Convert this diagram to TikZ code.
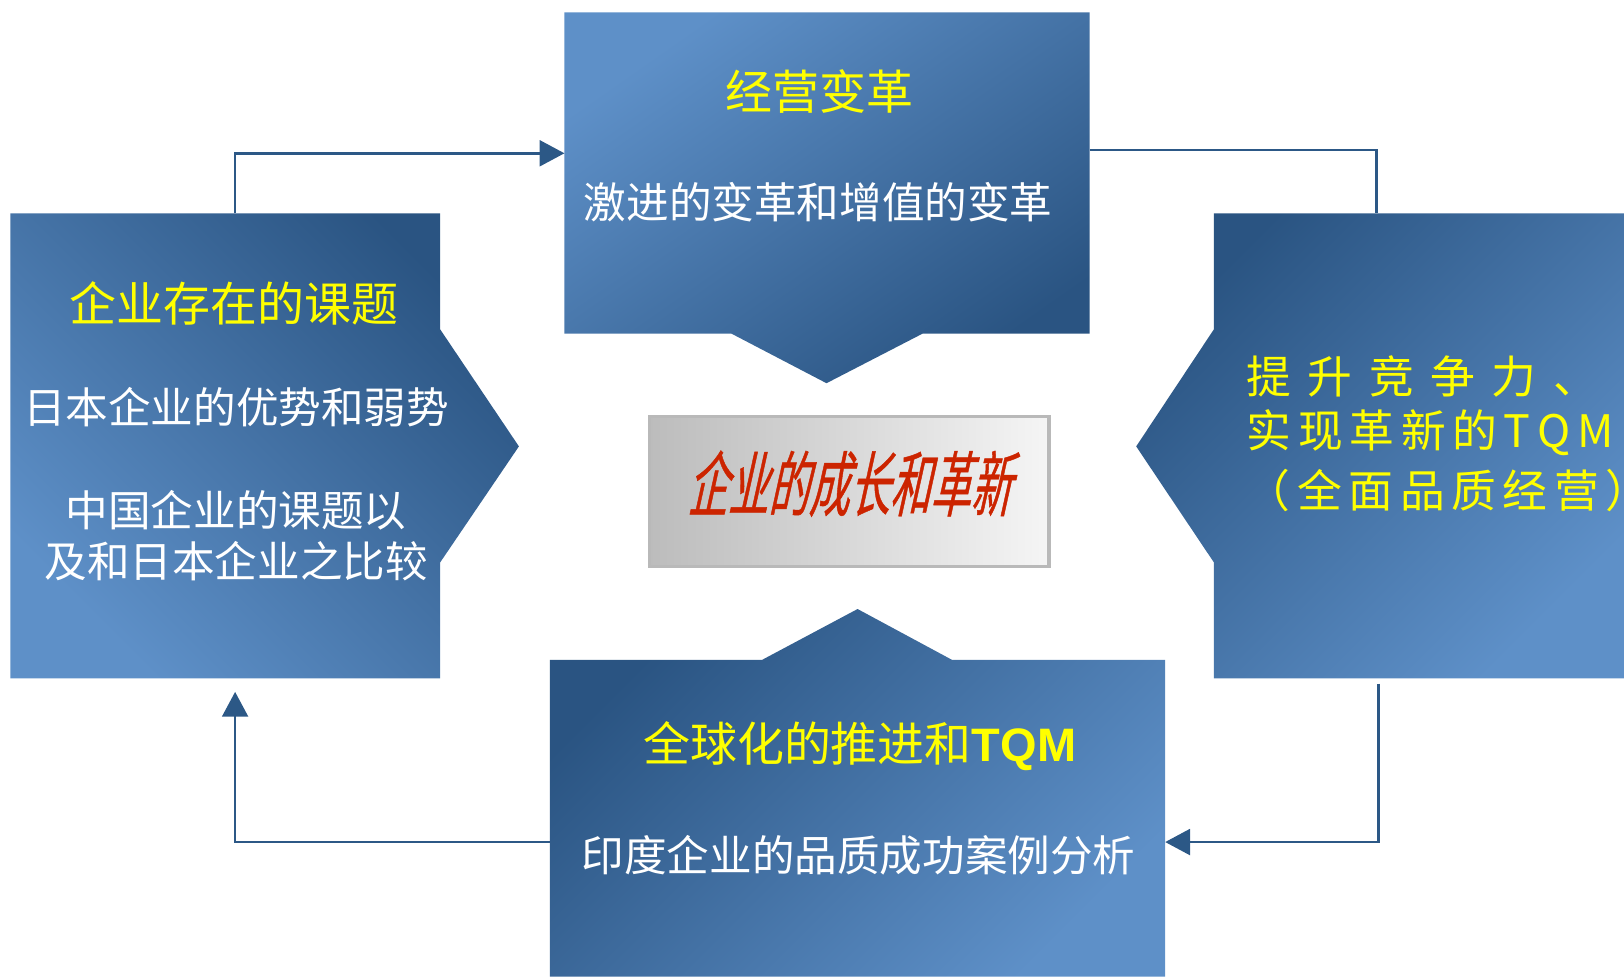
\documentclass[tikz,border=0pt]{standalone}
\usepackage{fontspec}
\setmainfont{Noto Sans CJK SC}
\newfontfamily\redfont[FakeSlant=0.22,FakeStretch=0.57,FakeBold=0.6]{Noto Sans CJK SC}
\newfontfamily\tqmfont{Liberation Sans}
\usetikzlibrary{arrows.meta}

\definecolor{boxlight}{RGB}{94,144,200}
\definecolor{boxdark}{RGB}{42,84,130}
\definecolor{linkblue}{RGB}{44,88,134}
\definecolor{titleyellow}{RGB}{255,255,0}
\definecolor{centrered}{RGB}{204,36,0}
\definecolor{centreleft}{RGB}{188,188,188}
\definecolor{centreright}{RGB}{245,245,245}
\definecolor{centreline}{RGB}{185,185,185}

\tikzset{
  area/.style={inner sep=0pt, outer sep=0pt},
  link/.style={draw=linkblue, line width=0.7pt},
  linkarrow/.style={link, -{Triangle[length=0.24cm,width=0.25cm]}},
  whitetxt/.style={text=white, font=\fontsize{11.7}{14}\selectfont},
  titletxt/.style={text=titleyellow, font=\fontsize{12.9}{15}\selectfont},
  sidetxt/.style={text=titleyellow, anchor=west, inner sep=0pt, font=\fontsize{12.3}{14}\selectfont}
}

\begin{document}
\begin{tikzpicture}
    \useasboundingbox (0,0) rectangle (15.68,9.43);

    % boxes (areas)
    \node[area, minimum width=5.07cm, minimum height=3.10cm] (jy) at (7.985,7.76) {};
    \node[area, minimum width=4.15cm, minimum height=4.49cm] (qy) at (2.175,5.125) {};
    \node[area, minimum width=3.96cm, minimum height=4.49cm] (ts) at (13.70,5.125) {};
    \node[area, minimum width=5.94cm, minimum height=3.06cm] (qq) at (8.28,1.53) {};

    % shapes
    \shade[top color=boxlight, bottom color=boxdark, shading angle=35]
      (jy.north west) -- (jy.north east) -- (jy.south east) -- (8.91,6.21)
      -- (7.98,5.73) -- (7.06,6.21) -- (jy.south west) -- cycle; % top, points down
    \shade[top color=boxdark, bottom color=boxlight, shading angle=-45]
      (qy.north west) -- (qy.north east) -- (4.25,6.25) -- (5.01,5.12)
      -- (4.25,4.00) -- (qy.south east) -- (qy.south west) -- cycle; % left, points right
    \shade[top color=boxdark, bottom color=boxlight, shading angle=45]
      (ts.north west) -- (ts.north east) -- (ts.south east) -- (ts.south west)
      -- (11.72,4.00) -- (10.97,5.12) -- (11.72,6.25) -- cycle; % right, points left
    \shade[top color=boxdark, bottom color=boxlight, shading angle=45]
      (qq.north west) -- (7.36,3.06) -- (8.28,3.55) -- (9.19,3.06)
      -- (qq.north east) -- (qq.south east) -- (qq.south west) -- cycle; % bottom, points up

    % centre
    \node[area, minimum width=3.86cm, minimum height=1.45cm, draw=centreline, line width=1pt,
      left color=centreleft, right color=centreright] (cz) at (8.20,4.685) {};
    \node[text=centrered, font=\fontsize{19.5}{22}\redfont] (czt) at (8.20,4.76) {企业的成长和革新};

    % texts
    \node[titletxt] (jyt) at (7.91,8.55) {经营变革};
    \node[whitetxt] (jyd) at (7.90,7.48) {激进的变革和增值的变革};

    \node[titletxt] (qyt) at (2.26,6.50) {企业存在的课题};
    \node[whitetxt] (qyd) at (2.28,5.50) {日本企业的优势和弱势};
    \node[whitetxt, align=center, font=\fontsize{11.7}{13.9}\selectfont] (qye) at (2.28,4.26)
      {中国企业的课题以\\及和日本企业之比较};

    \node[sidetxt] (ts1) at (12.03,5.80) {\makebox[3.39cm][s]{提 升 竞 争 力 、}};
    \node[sidetxt] (ts2) at (12.03,5.25) {\makebox[3.38cm][s]{实 现 革 新 的 T Q M}};
    \node[sidetxt] (ts3) at (12.02,4.69) {\makebox[3.57cm][s]{（ 全 面 品 质 经 营 ）}};

    \node[titletxt] (qqt) at (8.30,2.23) {全球化的推进和{\tqmfont\bfseries TQM}};
    \node[whitetxt] (qqd) at (8.29,1.17) {印度企业的品质成功案例分析};

    % paths
    \coordinate (c1) at (2.27,7.95);
    \coordinate (c2) at (13.29,7.98);
    \coordinate (c3) at (13.31,1.30);
    \coordinate (c3a) at (13.31,2.83);
    \coordinate (c4) at (2.27,1.30);
    \coordinate (c4a) at (2.27,2.75);
    \draw[linkarrow] (c1 |- qy.north) -- (c1) -- (c1 -| jy.west); % left -> top
    \draw[link] (c2 -| jy.east) -- (c2) -- (c2 |- ts.north); % top -> right
    \draw[linkarrow] (c3a) -- (c3) -- (c3 -| qq.east); % right -> bottom
    \draw[linkarrow] (c4 -| qq.west) -- (c4) -- (c4a); % bottom -> left

\end{tikzpicture}
\end{document}
